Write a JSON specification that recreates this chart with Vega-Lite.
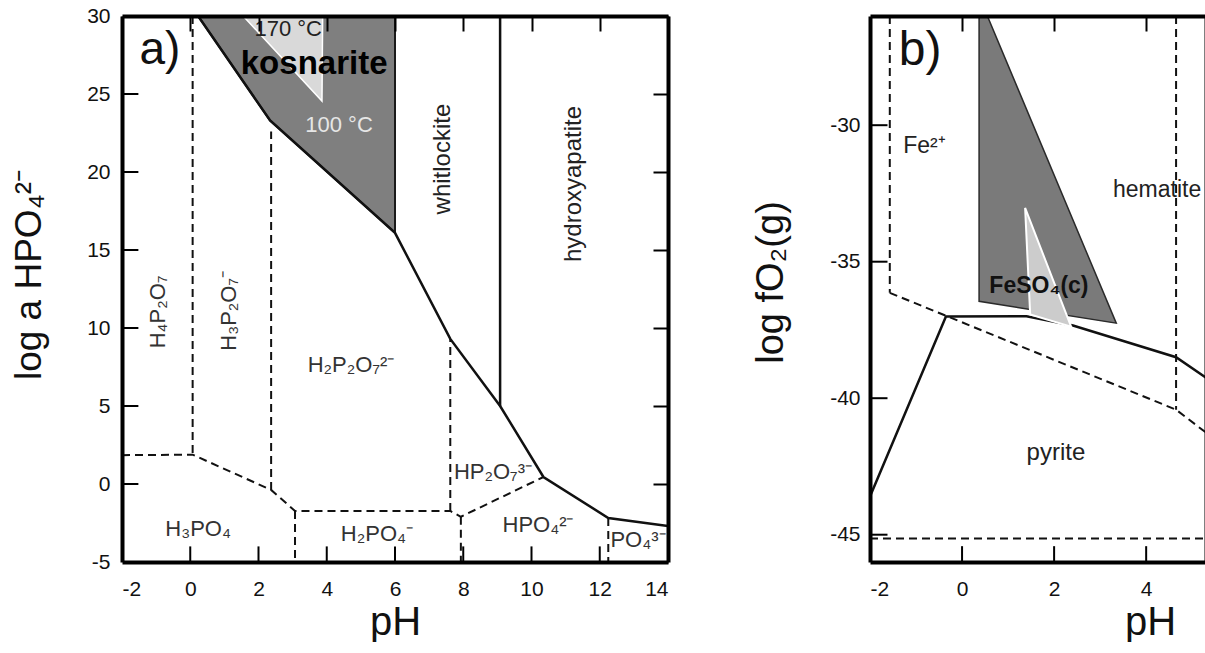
{
  "$schema": "https://vega.github.io/schema/vega-lite/v6.json",
  "background": "white",
  "padding": {"left": 10, "top": 5, "right": 0, "bottom": 0},
  "spacing": 83,
  "config": {
    "font": "Liberation Sans",
    "view": {"stroke": null},
    "axis": {
      "labelFont": "Liberation Sans", "labelFontSize": 21, "labelColor": "#111",
      "titleFont": "Liberation Sans", "titleFontSize": 40, "titleFontWeight": "normal", "titleColor": "#111",
      "tickColor": "#000", "tickWidth": 2, "tickSize": -15, "tickOpacity": 1,
      "domainColor": "#000", "domainWidth": 4, "grid": false, "minExtent": 0,
      "labelExpr": "datum.value < 0 ? '-' + abs(datum.value) : '' + datum.value"
    },
    "text": {"font": "Liberation Sans"}
  },
  "datasets": {
    "ticks": [
      {"panel": "a", "side": "x", "v": 0}, {"panel": "a", "side": "x", "v": 2}, {"panel": "a", "side": "x", "v": 4},
      {"panel": "a", "side": "x", "v": 6}, {"panel": "a", "side": "x", "v": 8}, {"panel": "a", "side": "x", "v": 10},
      {"panel": "a", "side": "x", "v": 12},
      {"panel": "a", "side": "y", "v": 0}, {"panel": "a", "side": "y", "v": 5}, {"panel": "a", "side": "y", "v": 10},
      {"panel": "a", "side": "y", "v": 15}, {"panel": "a", "side": "y", "v": 20}, {"panel": "a", "side": "y", "v": 25},
      {"panel": "b", "side": "x", "v": 0}, {"panel": "b", "side": "x", "v": 2}, {"panel": "b", "side": "x", "v": 4},
      {"panel": "b", "side": "y", "v": -30}, {"panel": "b", "side": "y", "v": -35}, {"panel": "b", "side": "y", "v": -40},
      {"panel": "b", "side": "y", "v": -45}
    ],
    "aPoly": [
      {"id": "kos", "o": 1, "x": 0.23, "y": 30},
      {"id": "kos", "o": 2, "x": 2.34, "y": 23.3},
      {"id": "kos", "o": 3, "x": 6.0, "y": 16.1},
      {"id": "kos", "o": 4, "x": 6.0, "y": 30},
      {"id": "t170", "o": 1, "x": 1.55, "y": 30},
      {"id": "t170", "o": 2, "x": 3.86, "y": 24.55},
      {"id": "t170", "o": 3, "x": 3.88, "y": 30}
    ],
    "aSolid": [
      {"g": "s1", "o": 1, "x": 0.23, "y": 30},
      {"g": "s1", "o": 2, "x": 2.34, "y": 23.3},
      {"g": "s1", "o": 3, "x": 6.0, "y": 16.1},
      {"g": "s1", "o": 4, "x": 7.62, "y": 9.3},
      {"g": "s1", "o": 5, "x": 9.08, "y": 5.0},
      {"g": "s1", "o": 6, "x": 10.35, "y": 0.45},
      {"g": "s1", "o": 7, "x": 12.25, "y": -2.18},
      {"g": "s1", "o": 8, "x": 14, "y": -2.7},
      {"g": "s2", "o": 1, "x": 9.08, "y": 5.0},
      {"g": "s2", "o": 2, "x": 9.08, "y": 30}
    ],
    "aDash": [
      {"g": "d1", "o": 1, "x": 0.07, "y": 30},
      {"g": "d1", "o": 2, "x": 0.07, "y": 1.88},
      {"g": "d2", "o": 1, "x": -2, "y": 1.85},
      {"g": "d2", "o": 2, "x": 0.07, "y": 1.88},
      {"g": "d2", "o": 3, "x": 2.37, "y": -0.38},
      {"g": "d2", "o": 4, "x": 3.07, "y": -1.73},
      {"g": "d2", "o": 5, "x": 7.62, "y": -1.73},
      {"g": "d2", "o": 6, "x": 7.93, "y": -2.1},
      {"g": "d2", "o": 7, "x": 10.35, "y": 0.45},
      {"g": "d3", "o": 1, "x": 2.37, "y": -0.38},
      {"g": "d3", "o": 2, "x": 2.37, "y": 22.6},
      {"g": "d4", "o": 1, "x": 3.07, "y": -1.73},
      {"g": "d4", "o": 2, "x": 3.07, "y": -5},
      {"g": "d5", "o": 1, "x": 7.62, "y": -1.73},
      {"g": "d5", "o": 2, "x": 7.62, "y": 9.3},
      {"g": "d6", "o": 1, "x": 7.93, "y": -2.1},
      {"g": "d6", "o": 2, "x": 7.93, "y": -5},
      {"g": "d7", "o": 1, "x": 12.25, "y": -2.18},
      {"g": "d7", "o": 2, "x": 12.25, "y": -5}
    ],
    "aText": [
      {"kind": "panel", "x": -0.89, "y": 26.92, "label": "a)"},
      {"kind": "bold", "x": 3.63, "y": 26.28, "label": "kosnarite"},
      {"kind": "dark", "x": 2.87, "y": 28.72, "label": "170 °C"},
      {"kind": "white", "x": 4.36, "y": 22.56, "label": "100 °C"},
      {"kind": "vmineral", "x": 7.61, "y": 20.83, "label": "whitlockite"},
      {"kind": "vmineral", "x": 11.45, "y": 19.23, "label": "hydroxyapatite"},
      {"kind": "vspecies", "x": -0.74, "y": 11.03, "label": "H₄P₂O₇"},
      {"kind": "vspecies", "x": 1.34, "y": 11.1, "label": "H₃P₂O₇⁻"},
      {"kind": "species", "x": 4.71, "y": 7.18, "label": "H₂P₂O₇²⁻"},
      {"kind": "species", "x": 8.87, "y": 0.32, "label": "HP₂O₇³⁻"},
      {"kind": "species", "x": 0.23, "y": -3.33, "label": "H₃PO₄"},
      {"kind": "species", "x": 5.47, "y": -3.65, "label": "H₂PO₄⁻"},
      {"kind": "species", "x": 10.19, "y": -3.08, "label": "HPO₄²⁻"},
      {"kind": "species", "x": 13.12, "y": -4.04, "label": "PO₄³⁻"}
    ],
    "bPoly": [
      {"id": "fes", "o": 1, "x": 0.37, "y": -26},
      {"id": "fes", "o": 2, "x": 0.55, "y": -26},
      {"id": "fes", "o": 3, "x": 3.35, "y": -37.25},
      {"id": "fes", "o": 4, "x": 0.37, "y": -36.45},
      {"id": "lt", "o": 1, "x": 1.37, "y": -33.03},
      {"id": "lt", "o": 2, "x": 2.37, "y": -37.38},
      {"id": "lt", "o": 3, "x": 1.48, "y": -36.93}
    ],
    "bSolid": [
      {"g": "s1", "o": 1, "x": -2, "y": -43.6},
      {"g": "s1", "o": 2, "x": -0.35, "y": -37.01},
      {"g": "s1", "o": 3, "x": 1.4, "y": -37.0},
      {"g": "s1", "o": 4, "x": 2.41, "y": -37.34},
      {"g": "s1", "o": 5, "x": 4.65, "y": -38.5},
      {"g": "s1", "o": 6, "x": 5.3, "y": -39.25}
    ],
    "bDash": [
      {"g": "e1", "o": 1, "x": -1.57, "y": -26},
      {"g": "e1", "o": 2, "x": -1.57, "y": -36.14},
      {"g": "e2", "o": 1, "x": -1.57, "y": -36.14},
      {"g": "e2", "o": 2, "x": 4.65, "y": -40.42},
      {"g": "e2", "o": 3, "x": 5.3, "y": -41.26},
      {"g": "e3", "o": 1, "x": 4.65, "y": -26},
      {"g": "e3", "o": 2, "x": 4.65, "y": -40.42},
      {"g": "e4", "o": 1, "x": -2, "y": -45.14},
      {"g": "e4", "o": 2, "x": 5.3, "y": -45.14}
    ],
    "bText": [
      {"kind": "panel", "x": -0.91, "y": -27.79, "label": "b)"},
      {"kind": "left", "x": -1.28, "y": -31.0, "label": "Fe²⁺"},
      {"kind": "left", "x": 3.28, "y": -32.62, "label": "hematite"},
      {"kind": "bold", "x": 1.67, "y": -36.14, "label": "FeSO₄(c)"},
      {"kind": "species", "x": 2.04, "y": -42.25, "label": "pyrite"}
    ]
  },
  "hconcat": [
    {
      "width": 546,
      "height": 546,
      "resolve": {"axis": {"x": "independent", "y": "independent"}},
      "layer": [
        {
          "data": {"name": "aPoly"},
          "transform": [{"filter": "datum.id === 'kos'"}],
          "mark": {"type": "line", "interpolate": "linear-closed", "fill": "#7f7f7f", "stroke": "#1a1a1a", "strokeWidth": 2, "clip": true},
          "encoding": {
            "x": {"field": "x", "type": "quantitative", "scale": {"domain": [-2, 14], "nice": false, "zero": false},
              "axis": {"orient": "bottom", "values": [-2, 0, 2, 4, 6, 8, 10, 12, 14], "title": "pH", "labelPadding": 16, "titlePadding": 3, "ticks": false, "zindex": 1}},
            "y": {"field": "y", "type": "quantitative", "scale": {"domain": [-5, 30], "nice": false, "zero": false},
              "axis": {"orient": "left", "values": [-5, 0, 5, 10, 15, 20, 25, 30], "title": "log a HPO₄²⁻", "titleFontSize": 37, "titleY": 258, "labelPadding": 12, "titlePadding": 38, "ticks": false, "zindex": 1}},
            "order": {"field": "o", "type": "quantitative"}
          }
        },
        {
          "data": {"name": "aPoly"},
          "transform": [{"filter": "datum.id === 't170'"}],
          "mark": {"type": "line", "interpolate": "linear-closed", "fill": "#d9d9d9", "stroke": "#ffffff", "strokeWidth": 1.5, "clip": true},
          "encoding": {
            "x": {"field": "x", "type": "quantitative", "scale": {"domain": [-2, 14], "nice": false, "zero": false}, "axis": null},
            "y": {"field": "y", "type": "quantitative", "scale": {"domain": [-5, 30], "nice": false, "zero": false}, "axis": null},
            "order": {"field": "o", "type": "quantitative"}
          }
        },
        {
          "data": {"name": "aDash"},
          "mark": {"type": "line", "stroke": "#111", "strokeWidth": 2, "strokeDash": [8, 5], "clip": true},
          "encoding": {
            "x": {"field": "x", "type": "quantitative", "scale": {"domain": [-2, 14], "nice": false, "zero": false}, "axis": null},
            "y": {"field": "y", "type": "quantitative", "scale": {"domain": [-5, 30], "nice": false, "zero": false}, "axis": null},
            "detail": {"field": "g"},
            "order": {"field": "o", "type": "quantitative"}
          }
        },
        {
          "data": {"name": "aSolid"},
          "mark": {"type": "line", "stroke": "#111", "strokeWidth": 2.5, "clip": true},
          "encoding": {
            "x": {"field": "x", "type": "quantitative", "scale": {"domain": [-2, 14], "nice": false, "zero": false},
              "axis": {"orient": "top", "values": [-2, 0, 2, 4, 6, 8, 10, 12, 14], "labels": false, "title": null, "zindex": 1}},
            "y": {"field": "y", "type": "quantitative", "scale": {"domain": [-5, 30], "nice": false, "zero": false},
              "axis": {"orient": "right", "values": [-5, 0, 5, 10, 15, 20, 25, 30], "labels": false, "title": null, "zindex": 1}},
            "detail": {"field": "g"},
            "order": {"field": "o", "type": "quantitative"}
          }
        },
        {
          "data": {"name": "ticks"},
          "transform": [{"filter": "datum.panel === 'a' && datum.side === 'x'"}],
          "mark": {"type": "rule", "strokeWidth": 2, "color": "#000"},
          "encoding": {
            "x": {"field": "v", "type": "quantitative", "scale": {"domain": [-2, 14], "nice": false, "zero": false}, "axis": null},
            "y": {"datum": -5, "type": "quantitative", "scale": {"domain": [-5, 30], "nice": false, "zero": false}, "axis": null},
            "y2": {"datum": -4.0}
          }
        },
        {
          "data": {"name": "ticks"},
          "transform": [{"filter": "datum.panel === 'a' && datum.side === 'y'"}],
          "mark": {"type": "rule", "strokeWidth": 2, "color": "#000"},
          "encoding": {
            "x": {"datum": -2, "type": "quantitative", "scale": {"domain": [-2, 14], "nice": false, "zero": false}, "axis": null},
            "x2": {"datum": -1.52},
            "y": {"field": "v", "type": "quantitative", "scale": {"domain": [-5, 30], "nice": false, "zero": false}, "axis": null}
          }
        },
        {
          "data": {"name": "aText"},
          "transform": [{"filter": "datum.kind === 'species'"}],
          "mark": {"type": "text", "fontSize": 22, "color": "#333", "align": "center", "baseline": "alphabetic"},
          "encoding": {
            "x": {"field": "x", "type": "quantitative", "scale": {"domain": [-2, 14], "nice": false, "zero": false}, "axis": null},
            "y": {"field": "y", "type": "quantitative", "scale": {"domain": [-5, 30], "nice": false, "zero": false}, "axis": null},
            "text": {"field": "label"}
          }
        },
        {
          "data": {"name": "aText"},
          "transform": [{"filter": "datum.kind === 'vspecies'"}],
          "mark": {"type": "text", "fontSize": 22, "color": "#333", "align": "center", "baseline": "alphabetic", "angle": 270},
          "encoding": {
            "x": {"field": "x", "type": "quantitative", "scale": {"domain": [-2, 14], "nice": false, "zero": false}, "axis": null},
            "y": {"field": "y", "type": "quantitative", "scale": {"domain": [-5, 30], "nice": false, "zero": false}, "axis": null},
            "text": {"field": "label"}
          }
        },
        {
          "data": {"name": "aText"},
          "transform": [{"filter": "datum.kind === 'vmineral'"}],
          "mark": {"type": "text", "fontSize": 24, "color": "#222", "align": "center", "baseline": "alphabetic", "angle": 270},
          "encoding": {
            "x": {"field": "x", "type": "quantitative", "scale": {"domain": [-2, 14], "nice": false, "zero": false}, "axis": null},
            "y": {"field": "y", "type": "quantitative", "scale": {"domain": [-5, 30], "nice": false, "zero": false}, "axis": null},
            "text": {"field": "label"}
          }
        },
        {
          "data": {"name": "aText"},
          "transform": [{"filter": "datum.kind === 'panel'"}],
          "mark": {"type": "text", "fontSize": 46, "color": "#111", "align": "center", "baseline": "alphabetic"},
          "encoding": {
            "x": {"field": "x", "type": "quantitative", "scale": {"domain": [-2, 14], "nice": false, "zero": false}, "axis": null},
            "y": {"field": "y", "type": "quantitative", "scale": {"domain": [-5, 30], "nice": false, "zero": false}, "axis": null},
            "text": {"field": "label"}
          }
        },
        {
          "data": {"name": "aText"},
          "transform": [{"filter": "datum.kind === 'bold'"}],
          "mark": {"type": "text", "fontSize": 33, "fontWeight": "bold", "color": "#000", "align": "center", "baseline": "alphabetic"},
          "encoding": {
            "x": {"field": "x", "type": "quantitative", "scale": {"domain": [-2, 14], "nice": false, "zero": false}, "axis": null},
            "y": {"field": "y", "type": "quantitative", "scale": {"domain": [-5, 30], "nice": false, "zero": false}, "axis": null},
            "text": {"field": "label"}
          }
        },
        {
          "data": {"name": "aText"},
          "transform": [{"filter": "datum.kind === 'dark'"}],
          "mark": {"type": "text", "fontSize": 22, "color": "#222", "align": "center", "baseline": "alphabetic"},
          "encoding": {
            "x": {"field": "x", "type": "quantitative", "scale": {"domain": [-2, 14], "nice": false, "zero": false}, "axis": null},
            "y": {"field": "y", "type": "quantitative", "scale": {"domain": [-5, 30], "nice": false, "zero": false}, "axis": null},
            "text": {"field": "label"}
          }
        },
        {
          "data": {"name": "aText"},
          "transform": [{"filter": "datum.kind === 'white'"}],
          "mark": {"type": "text", "fontSize": 22, "color": "#e6e6e6", "align": "center", "baseline": "alphabetic"},
          "encoding": {
            "x": {"field": "x", "type": "quantitative", "scale": {"domain": [-2, 14], "nice": false, "zero": false}, "axis": null},
            "y": {"field": "y", "type": "quantitative", "scale": {"domain": [-5, 30], "nice": false, "zero": false}, "axis": null},
            "text": {"field": "label"}
          }
        }
      ]
    },
    {
      "width": 336,
      "height": 546,
      "resolve": {"axis": {"x": "independent", "y": "independent"}},
      "layer": [
        {
          "data": {"name": "bSolid"},
          "mark": {"type": "line", "stroke": "#111", "strokeWidth": 2.5, "clip": true},
          "encoding": {
            "x": {"field": "x", "type": "quantitative", "scale": {"domain": [-2, 5.3], "nice": false, "zero": false},
              "axis": {"orient": "bottom", "values": [-2, 0, 2, 4], "title": "pH", "titleX": 280, "labelPadding": 16, "titlePadding": 3, "ticks": false, "zindex": 1}},
            "y": {"field": "y", "type": "quantitative", "scale": {"domain": [-46, -26], "nice": false, "zero": false},
              "axis": {"orient": "left", "values": [-30, -35, -40, -45], "title": "log fO₂(g)", "titleFontSize": 38, "titleY": 266, "labelPadding": 10, "titlePadding": 39, "ticks": false, "zindex": 1}},
            "detail": {"field": "g"},
            "order": {"field": "o", "type": "quantitative"}
          }
        },
        {
          "data": {"name": "bDash"},
          "mark": {"type": "line", "stroke": "#111", "strokeWidth": 2, "strokeDash": [8, 5], "clip": true},
          "encoding": {
            "x": {"field": "x", "type": "quantitative", "scale": {"domain": [-2, 5.3], "nice": false, "zero": false},
              "axis": {"orient": "top", "values": [0, 2, 4], "labels": false, "title": null, "zindex": 1}},
            "y": {"field": "y", "type": "quantitative", "scale": {"domain": [-46, -26], "nice": false, "zero": false},
              "axis": {"orient": "right", "values": [], "ticks": false, "labels": false, "title": null, "zindex": 1}},
            "detail": {"field": "g"},
            "order": {"field": "o", "type": "quantitative"}
          }
        },
        {
          "data": {"name": "bPoly"},
          "transform": [{"filter": "datum.id === 'fes'"}],
          "mark": {"type": "line", "interpolate": "linear-closed", "fill": "#7a7a7a", "stroke": "#2a2a2a", "strokeWidth": 1.5, "clip": true},
          "encoding": {
            "x": {"field": "x", "type": "quantitative", "scale": {"domain": [-2, 5.3], "nice": false, "zero": false}, "axis": null},
            "y": {"field": "y", "type": "quantitative", "scale": {"domain": [-46, -26], "nice": false, "zero": false}, "axis": null},
            "order": {"field": "o", "type": "quantitative"}
          }
        },
        {
          "data": {"name": "bPoly"},
          "transform": [{"filter": "datum.id === 'lt'"}],
          "mark": {"type": "line", "interpolate": "linear-closed", "fill": "#cccccc", "stroke": "#ffffff", "strokeWidth": 2, "clip": true},
          "encoding": {
            "x": {"field": "x", "type": "quantitative", "scale": {"domain": [-2, 5.3], "nice": false, "zero": false}, "axis": null},
            "y": {"field": "y", "type": "quantitative", "scale": {"domain": [-46, -26], "nice": false, "zero": false}, "axis": null},
            "order": {"field": "o", "type": "quantitative"}
          }
        },
        {
          "data": {"name": "ticks"},
          "transform": [{"filter": "datum.panel === 'b' && datum.side === 'x'"}],
          "mark": {"type": "rule", "strokeWidth": 2, "color": "#000"},
          "encoding": {
            "x": {"field": "v", "type": "quantitative", "scale": {"domain": [-2, 5.3], "nice": false, "zero": false}, "axis": null},
            "y": {"datum": -46, "type": "quantitative", "scale": {"domain": [-46, -26], "nice": false, "zero": false}, "axis": null},
            "y2": {"datum": -45.42}
          }
        },
        {
          "data": {"name": "ticks"},
          "transform": [{"filter": "datum.panel === 'b' && datum.side === 'y'"}],
          "mark": {"type": "rule", "strokeWidth": 2, "color": "#000"},
          "encoding": {
            "x": {"datum": -2, "type": "quantitative", "scale": {"domain": [-2, 5.3], "nice": false, "zero": false}, "axis": null},
            "x2": {"datum": -1.62},
            "y": {"field": "v", "type": "quantitative", "scale": {"domain": [-46, -26], "nice": false, "zero": false}, "axis": null}
          }
        },
        {
          "data": {"name": "bText"},
          "transform": [{"filter": "datum.kind === 'panel'"}],
          "mark": {"type": "text", "fontSize": 48, "color": "#111", "align": "center", "baseline": "alphabetic"},
          "encoding": {
            "x": {"field": "x", "type": "quantitative", "scale": {"domain": [-2, 5.3], "nice": false, "zero": false}, "axis": null},
            "y": {"field": "y", "type": "quantitative", "scale": {"domain": [-46, -26], "nice": false, "zero": false}, "axis": null},
            "text": {"field": "label"}
          }
        },
        {
          "data": {"name": "bText"},
          "transform": [{"filter": "datum.kind === 'left'"}],
          "mark": {"type": "text", "fontSize": 23, "color": "#222", "align": "left", "baseline": "alphabetic"},
          "encoding": {
            "x": {"field": "x", "type": "quantitative", "scale": {"domain": [-2, 5.3], "nice": false, "zero": false}, "axis": null},
            "y": {"field": "y", "type": "quantitative", "scale": {"domain": [-46, -26], "nice": false, "zero": false}, "axis": null},
            "text": {"field": "label"}
          }
        },
        {
          "data": {"name": "bText"},
          "transform": [{"filter": "datum.kind === 'bold'"}],
          "mark": {"type": "text", "fontSize": 23, "fontWeight": "bold", "color": "#111", "align": "center", "baseline": "alphabetic"},
          "encoding": {
            "x": {"field": "x", "type": "quantitative", "scale": {"domain": [-2, 5.3], "nice": false, "zero": false}, "axis": null},
            "y": {"field": "y", "type": "quantitative", "scale": {"domain": [-46, -26], "nice": false, "zero": false}, "axis": null},
            "text": {"field": "label"}
          }
        },
        {
          "data": {"name": "bText"},
          "transform": [{"filter": "datum.kind === 'species'"}],
          "mark": {"type": "text", "fontSize": 24, "color": "#222", "align": "center", "baseline": "alphabetic"},
          "encoding": {
            "x": {"field": "x", "type": "quantitative", "scale": {"domain": [-2, 5.3], "nice": false, "zero": false}, "axis": null},
            "y": {"field": "y", "type": "quantitative", "scale": {"domain": [-46, -26], "nice": false, "zero": false}, "axis": null},
            "text": {"field": "label"}
          }
        }
      ]
    }
  ]
}
